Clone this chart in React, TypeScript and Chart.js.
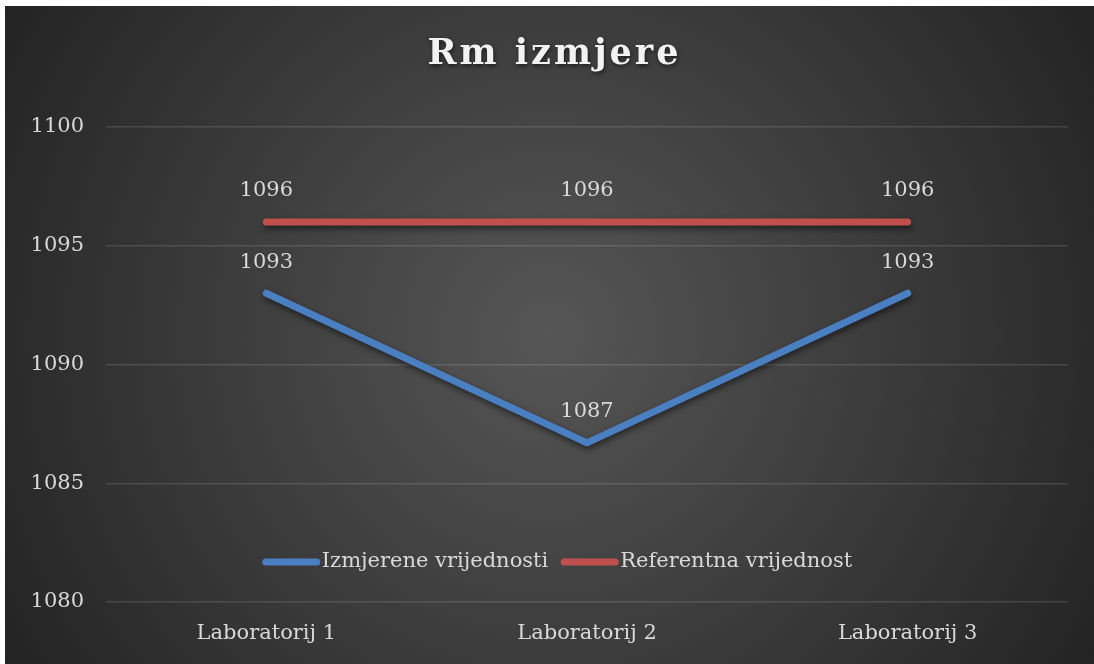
import React, { useEffect, useRef } from "react";
import { Chart, registerables } from "chart.js";

Chart.register(...registerables);

const chartTitle = "Rm izmjere";
const categories = ["Laboratorij 1", "Laboratorij 2", "Laboratorij 3"];
const measuredValues = [1093, 1086.7, 1093];
const referenceValues = [1096, 1096, 1096];
const seriesNames = ["Izmjerene vrijednosti", "Referentna vrijednost"];
const seriesColors = ["#4a7fc1", "#c0504d"];
const yTickValues = [1080, 1085, 1090, 1095, 1100];

const FONT = "'DejaVu Serif', 'Liberation Serif', serif";
const TEXT = "#d9d9d9";
const FS = 21;

const W = 1089;
const H = 658;

const bgPlugin = {
  id: "bgPlugin",
  beforeDraw(chart: any) {
    const { ctx, width, height } = chart;
    ctx.save();
    const g = ctx.createRadialGradient(width / 2, height / 2, 0, width / 2, height / 2, 640);
    g.addColorStop(0, "#565656");
    g.addColorStop(1, "#232323");
    ctx.fillStyle = g;
    ctx.fillRect(0, 0, width, height);
    ctx.restore();
  },
};

const titlePlugin = {
  id: "titlePlugin",
  afterDraw(chart: any) {
    const { ctx, width } = chart;
    ctx.save();
    ctx.font = `bold 35px ${FONT}`;
    (ctx as any).letterSpacing = "3px";
    ctx.fillStyle = "#f2f2f2";
    ctx.textAlign = "center";
    ctx.textBaseline = "middle";
    ctx.shadowColor = "rgba(0,0,0,0.6)";
    ctx.shadowBlur = 4;
    ctx.shadowOffsetX = 1;
    ctx.shadowOffsetY = 2;
    ctx.fillText(chartTitle, width / 2 + 5, 49);
    ctx.restore();
  },
};

const shadowPlugin = {
  id: "shadowPlugin",
  beforeDatasetDraw(chart: any) {
    const ctx = chart.ctx;
    ctx.save();
    ctx.shadowColor = "rgba(0,0,0,0.55)";
    ctx.shadowBlur = 6;
    ctx.shadowOffsetX = 1;
    ctx.shadowOffsetY = 3;
  },
  afterDatasetDraw(chart: any) {
    chart.ctx.restore();
  },
};

const labelPlugin = {
  id: "labelPlugin",
  afterDatasetsDraw(chart: any) {
    const ctx = chart.ctx;
    ctx.save();
    ctx.font = `${FS}px ${FONT}`;
    ctx.fillStyle = TEXT;
    ctx.textAlign = "center";
    ctx.textBaseline = "middle";
    chart.data.datasets.forEach((ds: any, i: number) => {
      const meta = chart.getDatasetMeta(i);
      meta.data.forEach((pt: any, j: number) => {
        ctx.fillText(String(Math.round(ds.data[j])), pt.x, pt.y - 31);
      });
    });
    ctx.restore();
  },
};

const legendPlugin = {
  id: "legendPlugin",
  afterDraw(chart: any) {
    const ctx = chart.ctx;
    const area = chart.chartArea;
    ctx.save();
    ctx.font = `${FS}px ${FONT}`;
    const lineW = 57;
    const gap = 2;
    const itemGap = 13;
    const items = chart.data.datasets.map((ds: any) => ({
      label: ds.label,
      color: ds.borderColor,
      w: lineW + gap + ctx.measureText(ds.label).width,
    }));
    const total = items.reduce((s: number, it: any) => s + it.w, 0) + itemGap * (items.length - 1);
    let x = chart.width / 2 + 8 - total / 2;
    const y = area.bottom - 40;
    items.forEach((it: any) => {
      ctx.strokeStyle = it.color;
      ctx.lineWidth = 7;
      ctx.lineCap = "round";
      ctx.beginPath();
      ctx.moveTo(x + 3, y);
      ctx.lineTo(x + lineW - 3, y);
      ctx.stroke();
      ctx.fillStyle = TEXT;
      ctx.textAlign = "left";
      ctx.textBaseline = "middle";
      ctx.fillText(it.label, x + lineW + gap, y);
      x += it.w + itemGap;
    });
    ctx.restore();
  },
};

export default function App() {
  const ref = useRef<HTMLCanvasElement | null>(null);

  useEffect(() => {
    if (!ref.current) return;
    const chart = new Chart(ref.current, {
      type: "line",
      data: {
        labels: categories,
        datasets: [
          {
            label: seriesNames[0],
            data: measuredValues,
            borderColor: seriesColors[0],
            backgroundColor: seriesColors[0],
            borderWidth: 7,
            borderCapStyle: "round",
            borderJoinStyle: "round",
            pointRadius: 0,
            tension: 0,
          },
          {
            label: seriesNames[1],
            data: referenceValues,
            borderColor: seriesColors[1],
            backgroundColor: seriesColors[1],
            borderWidth: 7,
            borderCapStyle: "round",
            borderJoinStyle: "round",
            pointRadius: 0,
            tension: 0,
          },
        ],
      },
      options: {
        responsive: false,
        animation: false,
        layout: { padding: { top: 121, right: 26, left: 0, bottom: 0 } },
        plugins: {
          legend: { display: false },
          title: { display: false },
          tooltip: { enabled: false },
        },
        scales: {
          x: {
            offset: true,
            grid: { display: false, drawTicks: false },
            border: { display: false },
            ticks: { color: TEXT, font: { family: FONT, size: FS }, padding: 19 },
            afterFit: (s: any) => {
              s.height = 62;
            },
          },
          y: {
            min: yTickValues[0],
            max: yTickValues[yTickValues.length - 1],
            afterBuildTicks: (s: any) => {
              s.ticks = yTickValues.map((v) => ({ value: v }));
            },
            grid: { color: "rgba(255,255,255,0.13)", lineWidth: 1.5, drawTicks: false },
            border: { display: false },
            ticks: {
              color: TEXT,
              font: { family: FONT, size: FS },
              padding: 22,
              callback: (v: any) => String(v),
            },
            afterFit: (s: any) => {
              s.width = 101;
            },
          },
        },
      },
      plugins: [bgPlugin, shadowPlugin, labelPlugin, legendPlugin, titlePlugin],
    });
    return () => chart.destroy();
  }, []);

  return (
    <div style={{ position: "absolute", left: 5, top: 6, width: W, height: H }}>
      <canvas ref={ref} width={W} height={H} style={{ display: "block", width: W, height: H }} />
    </div>
  );
}
